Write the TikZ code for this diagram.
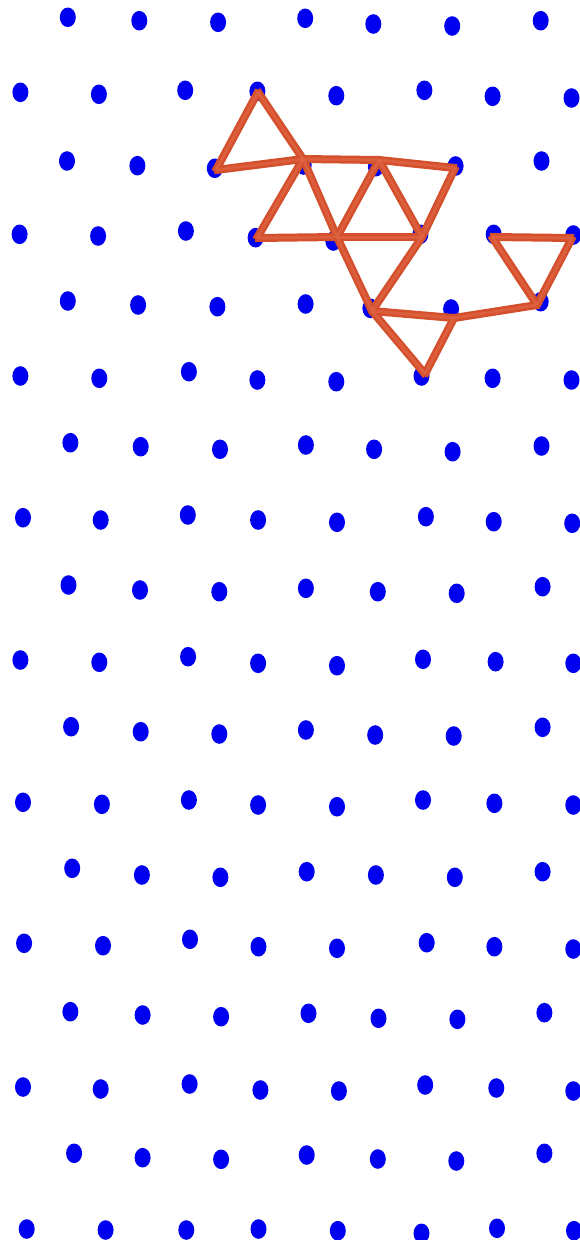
\documentclass[tikz,border=0pt]{standalone}
\definecolor{dotblue}{RGB}{0,0,240}
\definecolor{stickdark}{RGB}{212,80,45}
\definecolor{sticklight}{RGB}{226,104,70}
\tikzset{
  dot/.style={fill=dotblue, draw=none},
  stick/.style={draw=stickdark, line width=8pt, shorten <=-2pt, shorten >=-2pt},
  stickhi/.style={draw=sticklight, line width=3pt, opacity=0.6}
}
\begin{document}
\begin{tikzpicture}[x=1pt,y=-1pt]
\fill[white] (0,0) rectangle (580,1240);
\useasboundingbox (0,0) rectangle (580,1240);
% lattice of dots
\foreach \px/\py in {
 67.8/17.3,139.3/20.7,218.1/22.3,305.2/18.3,373.3/24,452.2/26,540.7/20.7,
 20.4/92.3,98.9/94.3,185.2/90.3,257.4/91.3,336.3/95.7,424.4/90.3,492.6/96.3,571.5/98,
 67/161,137.4/165.7,214.8/168.3,303.7/165,375.9/166.7,455.6/166,541.5/161,
 19.6/234.3,98.1/236,185.9/231,255.6/237.7,333.3/241,420.4/234.3,493.7/234.3,573.3/235,
 67.8/301,138.1/305,217.4/306.7,305.6/304,370.4/308.3,451.1/309,540.7/301.7,
 20.4/376,99.3/378.3,188.9/371.7,257.4/380,336.3/381.7,421.5/376,492.6/378.3,571.5/380,
 70.4/442.7,140.7/446.7,220/449.3,305.9/445,374.1/449.3,452.6/451.7,541.5/446,
 23/517.7,100.7/520,187.8/515,258.1/520,337/522.3,425.9/516.7,493.7/521.7,572.2/523.3,
 68.5/585,140/590,219.3/591.7,305.9/588.3,377.8/591.7,456.7/593.3,542.6/586.7,
 20.4/660,99.3/662.3,188.1/656.7,258.1/663.3,337/665.7,423/659.3,495.6/661.7,573.3/663.3,
 71.1/726.7,140.7/731.7,219.3/734,305.9/730,375.2/735,453.7/736,542.6/727.3,
 23/802.3,101.9/804.3,188.9/800,258.1/805,337/806.7,423/800,494.4/803.3,573.3/805,
 72.2/868.3,141.9/875,220.4/877.3,306.7/871.7,375.9/875,454.8/877.3,542.6/871.7,
 24.1/943.3,103/945.7,190/939.3,258.5/946.7,337/948.3,426.7/942.7,494.4/946.7,573.3/949,
 70.4/1011.7,142.6/1015,221.1/1016.7,308.5/1013.3,378.5/1018.3,457.4/1019.3,544.4/1012.7,
 23/1087,100.7/1089,189.6/1084,260.4/1090,338.9/1091,425.2/1085,496.3/1088,573.3/1091,
 74.1/1153.3,142.6/1157.7,221.1/1159.3,306.7/1155,377.8/1159,456.3/1161,544.4/1153.3,
 26.7/1229,105.6/1230,186.3/1230,258.5/1229,337.8/1230.7,421.5/1233.3,497/1228.3,574/1230.7}
 \fill[dot] (\px,\py) ellipse [x radius=8, y radius=9.8];
% stick vertices
\coordinate (v1) at (258,92);
\coordinate (v2) at (216,170);
\coordinate (v3) at (303,159);
\coordinate (v4) at (379,160);
\coordinate (v5) at (455,168);
\coordinate (v6) at (257,238);
\coordinate (v7) at (337,237);
\coordinate (v8) at (422,237);
\coordinate (v9) at (372,311);
\coordinate (v10) at (454,318);
\coordinate (v11) at (425,374);
\coordinate (v12) at (537,305);
\coordinate (v13) at (492,237);
\coordinate (v14) at (572,238);
% sticks
\foreach \a/\b in {v1/v2,v1/v3,v2/v3,v3/v4,v4/v5,v3/v6,v6/v7,v3/v7,v7/v4,v4/v8,v7/v8,v5/v8,
  v7/v9,v8/v9,v9/v10,v9/v11,v10/v11,v10/v12,v13/v14,v13/v12,v14/v12}
  \draw[stick] (\a) -- (\b);
\foreach \a/\b in {v1/v2,v1/v3,v2/v3,v3/v4,v4/v5,v3/v6,v6/v7,v3/v7,v7/v4,v4/v8,v7/v8,v5/v8,
  v7/v9,v8/v9,v9/v10,v9/v11,v10/v11,v10/v12,v13/v14,v13/v12,v14/v12}
  \draw[stickhi] (\a) -- (\b);
\end{tikzpicture}
\end{document}
